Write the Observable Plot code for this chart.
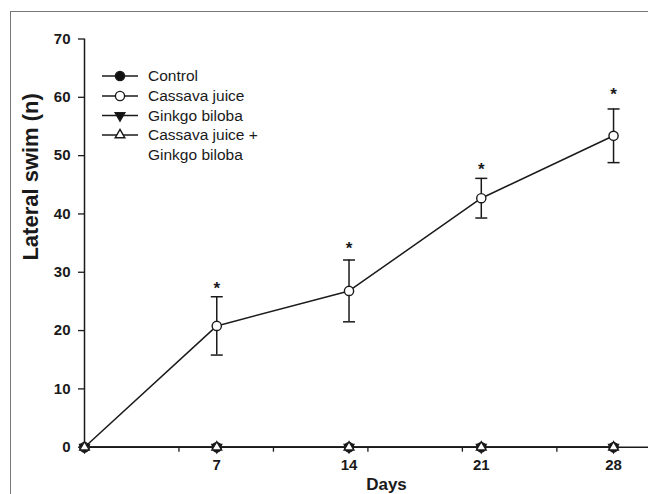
<!DOCTYPE html>
<html><head><meta charset="utf-8">
<script src="https://cdn.jsdelivr.net/npm/d3@7"></script>
<script src="https://cdn.jsdelivr.net/npm/@observablehq/plot@0.6"></script>
<style>
body{margin:0;background:#fff;}
#wrap{position:relative;width:648px;height:494px;overflow:hidden;font-family:Arial,"Liberation Sans",sans-serif;}
#frame{position:absolute;left:10px;top:11px;width:700px;height:600px;border-left:1.5px solid #777;border-top:1.5px solid #777;}
</style></head>
<body><div id="wrap"><div id="frame"></div></div>
<script>
const days = [0, 7, 14, 21, 28];
const seriesNames = ["Control", "Cassava juice", "Ginkgo biloba", "Cassava juice + Ginkgo biloba"];
const control = [0, 0, 0, 0, 0];
const cassava = [0, 20.8, 26.8, 42.7, 53.4];
const cassavaErr = [0, 5.0, 5.3, 3.4, 4.6];
const ginkgo = [0, 0, 0, 0, 0];
const combo = [0, 0, 0, 0, 0];
const sigDays = [7, 14, 21, 28];
const sigY = [28.0, 34.9, 48.4, 61.3];
const xTickLabels = [7, 14, 21, 28];
const xMinorTicks = [5, 10, 15, 20, 25];
const yTicks = [0, 10, 20, 30, 40, 50, 60, 70];

const styles = {
  "Control": {symbol: "circle", fill: "#111"},
  "Cassava juice": {symbol: "circle", fill: "#fff"},
  "Ginkgo biloba": {symbol: "triangle", fill: "#111", rotate: 180},
  "Cassava juice + Ginkgo biloba": {symbol: "triangle", fill: "#fff", rotate: 0}
};
const allSeries = [control, cassava, ginkgo, combo];
const rows = [];
seriesNames.forEach((s, i) => days.forEach((d, j) => rows.push({series: s, day: d, value: allSeries[i][j]})));
const errRows = days.map((d, j) => ({day: d, lo: cassava[j] - cassavaErr[j], hi: cassava[j] + cassavaErr[j]})).filter((r, j) => cassavaErr[j] > 0);
const sigRows = sigDays.map((d, i) => ({day: d, y: sigY[i]}));

const capSymbol = {draw(ctx, size) { ctx.moveTo(-6, 0); ctx.lineTo(6, 0); }};
const ink = "#1a1a1a";
const circleR = 4.6, triR = 3.6;

const dotMarks = seriesNames.map(s => Plot.dot(rows.filter(r => r.series === s), {
  x: "day", y: "value", symbol: styles[s].symbol, r: styles[s].symbol === "circle" ? circleR : triR,
  fill: styles[s].fill, stroke: ink, strokeWidth: 1.4, rotate: styles[s].rotate || 0
}));

const chart = Plot.plot({
  width: 648, height: 494,
  marginLeft: 84, marginRight: 0, marginTop: 38.5, marginBottom: 47.3,
  style: {fontFamily: "Arial, 'Liberation Sans', sans-serif", fontSize: "15px", background: "transparent", color: ink},
  x: {domain: [0, 29.85]},
  y: {domain: [0, 70]},
  marks: [
    Plot.ruleX([0], {stroke: ink, strokeWidth: 1.5}),
    Plot.ruleY([0], {stroke: ink, strokeWidth: 1.5}),
    Plot.axisY({ticks: yTicks, tickSize: 6, tickPadding: 8, label: null, fontWeight: "bold", fontSize: 15, stroke: ink, strokeWidth: 1.3}),
    Plot.axisX({ticks: xMinorTicks, tickSize: 5, tickFormat: () => "", label: null, stroke: ink, strokeWidth: 1.3}),
    Plot.axisX({ticks: xTickLabels, tickSize: 0, tickPadding: 12, label: null, fontWeight: "bold", fontSize: 15}),
    Plot.text(["Days"], {frameAnchor: "bottom", dy: 43, dx: 20, lineAnchor: "bottom", fontWeight: "bold", fontSize: 17, fill: ink}),
    Plot.text(["Lateral swim (n)"], {frameAnchor: "left", dx: -54, dy: 17.5, rotate: -90, fontWeight: "bold", fontSize: 22, fill: ink}),
    ...seriesNames.map(s => Plot.line(rows.filter(r => r.series === s), {x: "day", y: "value", stroke: ink, strokeWidth: 1.5})),
    Plot.ruleX(errRows, {x: "day", y1: "lo", y2: "hi", stroke: ink, strokeWidth: 1.5}),
    Plot.dot(errRows, {x: "day", y: "lo", symbol: capSymbol, stroke: ink, strokeWidth: 1.5}),
    Plot.dot(errRows, {x: "day", y: "hi", symbol: capSymbol, stroke: ink, strokeWidth: 1.5}),
    Plot.text(sigRows, {x: "day", y: "y", text: () => "*", fontSize: 17, fontWeight: "bold", dy: 5, fill: ink}),
    ...dotMarks
  ]
});
const wrap = document.getElementById("wrap");
chart.style.position = "absolute"; chart.style.left = "0"; chart.style.top = "0";
wrap.appendChild(chart);

// legend overlay
const leg = d3.select(wrap).append("svg").attr("width", 648).attr("height", 494)
  .style("position", "absolute").style("left", 0).style("top", 0)
  .attr("font-family", "Arial, 'Liberation Sans', sans-serif").attr("font-size", 15.5);
const legY = [76, 96, 115.5, 135];
seriesNames.forEach((s, i) => {
  const g = leg.append("g").attr("transform", `translate(0,${legY[i]})`);
  g.append("line").attr("x1", 102).attr("x2", 138).attr("stroke", ink).attr("stroke-width", 1.5);
  const st = styles[s];
  const isC = st.symbol === "circle";
  const sym = d3.symbol(isC ? d3.symbolCircle : d3.symbolTriangle, isC ? Math.PI * circleR * circleR : Math.PI * triR * triR)();
  g.append("path").attr("d", sym).attr("transform", `translate(120,0) rotate(${st.rotate || 0})`)
    .attr("fill", st.fill).attr("stroke", ink).attr("stroke-width", 1.4);
  const lines = s === "Cassava juice + Ginkgo biloba" ? ["Cassava juice +", "Ginkgo biloba"] : [s];
  lines.forEach((t, k) => g.append("text").attr("x", 148).attr("y", k * 19.5).attr("dy", "0.35em").attr("fill", ink).text(t));
});
</script>
</body></html>
